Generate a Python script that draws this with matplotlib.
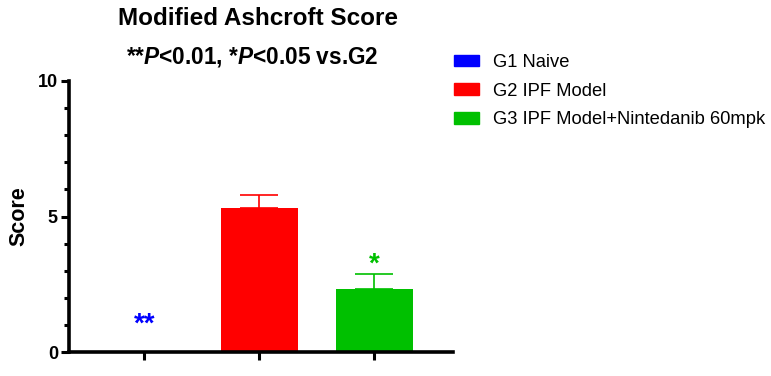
import matplotlib
matplotlib.use("Agg")
import matplotlib.pyplot as plt
from matplotlib.patches import Patch
import numpy as np

plt.rcParams['font.family'] = ['Liberation Sans', 'DejaVu Sans']
plt.rcParams['mathtext.fontset'] = 'custom'
plt.rcParams['mathtext.rm'] = 'Liberation Sans'
plt.rcParams['mathtext.bf'] = 'Liberation Sans:bold'
plt.rcParams['mathtext.bfit'] = 'Liberation Sans:italic:bold'

groups = ["G1 Naive", "G2 IPF Model", "G3 IPF Model+Nintedanib 60mpk"]
means = [0.0, 5.30, 2.31]
sems = [0.0, 0.51, 0.57]
colors = ["#0000ff", "#ff0000", "#00c000"]
marks = ["**", "", "*"]
mark_y = [0.75, 0, 2.95]

fig = plt.figure(figsize=(7.71, 3.76), dpi=100)
ax = fig.add_axes([0.0895, 0.0638, 0.4977, 0.7208])

x = np.arange(len(groups))
ax.bar(x, means, width=0.67, color=colors, zorder=2)
for i in range(len(groups)):
    if sems[i] > 0:
        ax.errorbar(x[i], means[i], yerr=[[0], [sems[i]]], fmt='none',
                    ecolor=colors[i], elinewidth=1.2, capsize=14, capthick=1.2, zorder=1)
    if marks[i]:
        ax.text(x[i], mark_y[i], marks[i], color=colors[i], ha='center', va='baseline',
                fontsize=20, fontweight='bold')

ax.set_xlim(-0.655, 2.68)
ax.set_ylim(0, 10)
ax.set_xticks(x)
ax.set_xticklabels([])
ax.set_yticks([0, 5, 10])
ax.set_yticks(np.arange(1, 10), minor=True)
ax.tick_params(axis='y', which='major', length=6, width=2.2, labelsize=13, pad=2)
ax.tick_params(axis='y', which='minor', length=3.5, width=2.2)
ax.tick_params(axis='x', which='major', length=6, width=2.2)
for lab in ax.get_yticklabels():
    lab.set_fontweight('bold')
for s in ['top', 'right']:
    ax.spines[s].set_visible(False)
for s in ['left', 'bottom']:
    ax.spines[s].set_linewidth(2.6)
ax.spines['left'].set_bounds(0, 10)

ax.set_ylabel("Score", fontsize=15.5, fontweight='bold', labelpad=6)

fig.text(0.335, 0.952, "Modified Ashcroft Score", ha='center', va='center',
         fontsize=17.5, fontweight='bold')
fig.text(0.327, 0.848, r"**$\boldsymbol{P}$<0.01, *$\boldsymbol{P}$<0.05 vs.G2", ha='center',
         va='center', fontsize=16.3, fontweight='bold')

handles = [Patch(color=c) for c in colors]
fig.legend(handles, groups, loc='upper left', bbox_to_anchor=(0.568, 0.90),
           frameon=False, fontsize=13.2, handlelength=1.33, handleheight=0.6,
           labelspacing=0.63, handletextpad=0.78)

fig.savefig("out.png", dpi=100)
